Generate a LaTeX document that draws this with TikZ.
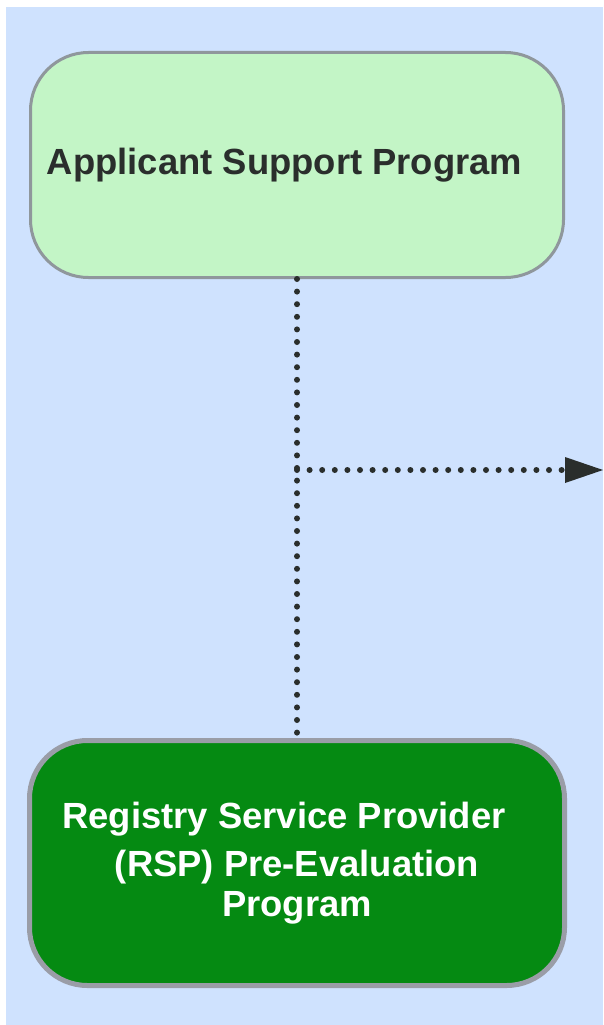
\documentclass[tikz,border=0pt]{standalone}
\usepackage{fontspec}
\setmainfont{Liberation Sans}
\usetikzlibrary{arrows.meta}
\definecolor{canvasblue}{HTML}{CFE2FE}
\definecolor{palegreen}{HTML}{C3F5C6}
\definecolor{deepgreen}{HTML}{058A12}
\definecolor{rimgrey}{HTML}{8F979C}
\definecolor{rimgreytwo}{HTML}{9A9DA7}
\definecolor{inkdark}{HTML}{2A2E2C}
\newcommand{\progfont}{\fontsize{36.4}{40}\selectfont\bfseries}

\begin{document}
\begin{tikzpicture}[x=1pt,y=-1pt,
    progbox/.style={rectangle,rounded corners=58pt,align=center,font=\progfont},
    dotline/.style={draw=inkdark,line width=6pt,line cap=round,
      dash pattern=on 0pt off 12.6pt}]
    \useasboundingbox (0,0) rectangle (603,1025);
    \fill[canvasblue] (6,7) rectangle (603,1025);
    \node[progbox,draw=rimgrey,fill=palegreen,line width=3pt,text=inkdark,
      minimum width=533pt,minimum height=225pt] (asp) at (297,165)
      {Applicant Support Program\hspace*{25pt}};
    \node[progbox,draw=rimgreytwo,fill=deepgreen,line width=5pt,text=white,
      minimum width=535pt,minimum height=245pt] (rsp) at (297,863)
      {Registry Service Provider\hspace*{26pt}\\[8pt]
        (RSP) Pre-Evaluation\\ Program};
    \coordinate (split) at (297,470);
    \coordinate (out) at (603,470);
    \draw[dotline] (asp.south) -- (rsp.north);
    \draw[dotline,-{Triangle[length=38pt,width=26pt,line width=0pt,fill=inkdark]}]
      (split) -- (out);
\end{tikzpicture}
\end{document}
